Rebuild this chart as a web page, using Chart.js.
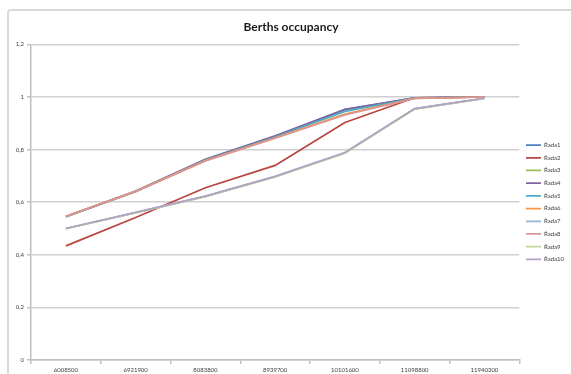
<!DOCTYPE html>
<html>
<head>
<meta charset="utf-8">
<script src="https://cdn.jsdelivr.net/npm/chart.js@4"></script>
<style>
    html, body { margin: 0; padding: 0; background: #fff; }
    body { width: 571px; height: 374px; position: relative; overflow: hidden; }
    .frame { position: absolute; left: 7px; top: 9px; width: 620px; height: 420px;
             border: 2px solid #d9d9d9; border-radius: 4px; }
    #js-lineChart { position: absolute; left: 0; top: 0; }
</style>
</head>
<body>
<div class="frame"></div>
<canvas id="js-lineChart" width="571" height="374"></canvas>
<script>
// data
var categories = ['6008500', '6921900', '8083800', '8939700', '10101600', '11098800', '11940300'];
var seriesNames = ['Řada1', 'Řada2', 'Řada3', 'Řada4', 'Řada5', 'Řada6', 'Řada7', 'Řada8', 'Řada9', 'Řada10'];
var rada1  = [0.545, 0.641, 0.762, 0.850, 0.952, 0.997, 1.000];
var rada2  = [0.434, 0.542, 0.655, 0.740, 0.903, 0.997, 1.000];
var rada3  = [0.500, 0.560, 0.622, 0.697, 0.787, 0.955, 0.995];
var rada4  = [0.545, 0.642, 0.763, 0.852, 0.953, 0.997, 1.000];
var rada5  = [0.545, 0.640, 0.760, 0.848, 0.945, 0.996, 1.000];
var rada6  = [0.546, 0.641, 0.758, 0.845, 0.935, 0.995, 1.000];
var rada7  = [0.500, 0.560, 0.622, 0.697, 0.788, 0.955, 0.995];
var rada8  = [0.546, 0.641, 0.757, 0.843, 0.932, 0.995, 1.000];
var rada9  = [0.499, 0.559, 0.621, 0.696, 0.786, 0.954, 0.995];
var rada10 = [0.500, 0.561, 0.623, 0.698, 0.789, 0.956, 0.996];
var yTicks = [0, 0.2, 0.4, 0.6, 0.8, 1, 1.2];

var seriesValues = [rada1, rada2, rada3, rada4, rada5, rada6, rada7, rada8, rada9, rada10];
var colors = ['#4F81BD', '#B8453F', '#9BBB59', '#8064A2', '#4BACC6',
              '#F79646', '#95B3D7', '#D99694', '#C3D69B', '#B3A2C7'];

var datasets = seriesValues.map(function (vals, i) {
    return {
        label: seriesNames[i],
        data: vals,
        borderColor: colors[i],
        backgroundColor: colors[i],
        borderWidth: 1.75,
        pointRadius: 0,
        tension: 0,
        order: seriesValues.length - i   // later series drawn on top, like Excel
    };
});

var ctx = document.getElementById('js-lineChart').getContext('2d');
var myChart = new Chart(ctx, {
    type: 'line',
    data: { labels: categories, datasets: datasets },
    options: {
        responsive: false,
        animation: false,
        events: [],
        layout: { padding: { left: 8, right: -3, top: 0, bottom: 0 } },
        plugins: {
            title: {
                display: true,
                text: 'Berths occupancy',
                color: '#1a1a1a',
                font: { family: 'Lato', size: 12, weight: 'bold' },
                padding: { top: 20, bottom: 10 }
            },
            legend: {
                position: 'right',
                fullSize: false,
                labels: {
                    usePointStyle: true,
                    pointStyle: 'line',
                    pointStyleWidth: 15,
                    boxHeight: 6,
                    padding: 6.7,
                    color: '#404040',
                    font: { family: 'Lato', size: 6 },
                    sort: function (a, b) { return a.datasetIndex - b.datasetIndex; }
                }
            },
            tooltip: { enabled: false }
        },
        scales: {
            x: {
                offset: true,
                grid: { offset: true, drawOnChartArea: false, drawTicks: true, tickLength: 4, color: '#bfbfbf', lineWidth: 1.5 },
                border: { color: '#bfbfbf', width: 1.5 },
                ticks: { color: '#404040', font: { family: 'Lato', size: 6 }, padding: 2, maxRotation: 0, autoSkip: false },
                afterFit: function (scale) { scale.height = 14; }
            },
            y: {
                min: 0,
                max: 1.2,
                afterBuildTicks: function (scale) {
                    scale.ticks = yTicks.map(function (v) { return { value: v }; });
                },
                grid: { color: '#d0d0d0', lineWidth: 1.5, drawTicks: true, tickLength: 4,
                        tickColor: '#bfbfbf' },
                border: { color: '#bfbfbf', width: 1.5 },
                ticks: {
                    color: '#404040',
                    font: { family: 'Lato', size: 6 },
                    padding: 3,
                    callback: function (v) { return String(Math.round(v * 10) / 10).replace('.', ','); }
                },
                afterFit: function (scale) { scale.width = 23; }
            }
        }
    }
});
</script>
</body>
</html>
